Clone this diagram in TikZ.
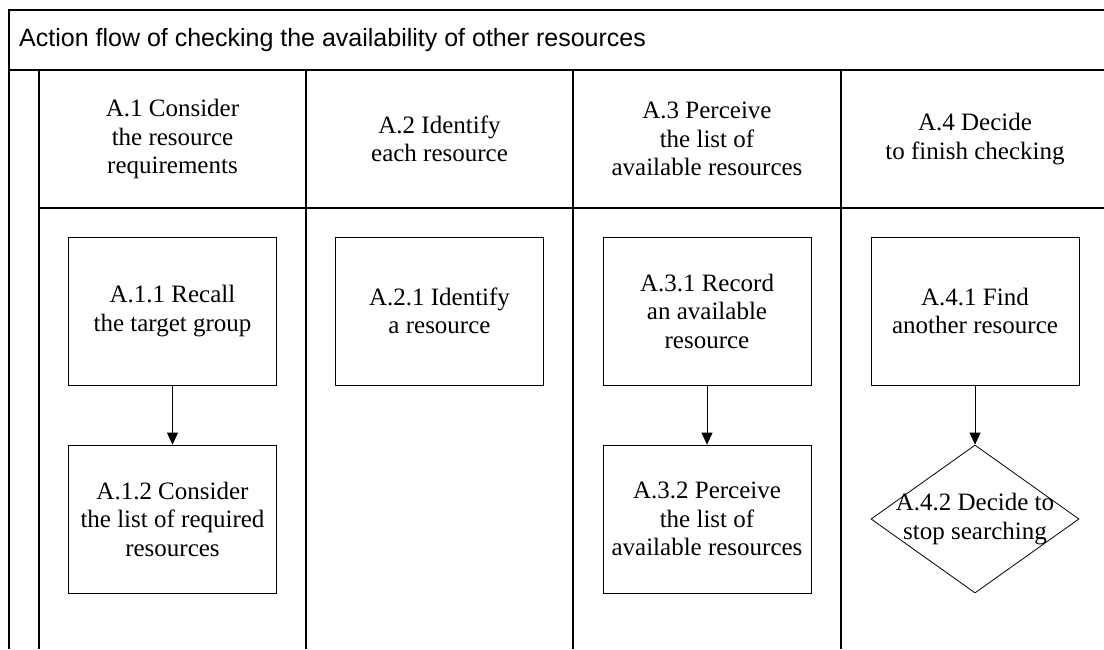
\documentclass[tikz,border=0pt]{standalone}
\usepackage{fontspec}
\setmainfont{Liberation Serif}
\newfontfamily\titlefont{Liberation Sans}
\usetikzlibrary{shapes.geometric,arrows.meta}
\begin{document}
\begin{tikzpicture}[x=1pt,y=-1pt,
  lane/.style={line width=1.4pt, black},
  txt/.style={align=center, inner sep=0pt, font=\fontsize{25}{28.5}\selectfont},
  stepbox/.style={txt, draw, line width=0.8pt, minimum width=208pt, minimum height=148pt},
  decision/.style={diamond, draw, line width=0.8pt, minimum width=208pt, minimum height=148pt, inner sep=0pt},
  flow/.style={line width=0.8pt, -{Triangle[width=11pt,length=12pt]}}]
\useasboundingbox (0,0) rectangle (1104,649);

% pool frame and lanes
\draw[lane] (1104,10) -- (9,10) -- (9,649);
\draw[lane] (9,70) -- (1104,70);
\draw[lane] (39,208) -- (1104,208);
\foreach \x in {39,306,573,841} \draw[lane] (\x,70) -- (\x,649);

% pool title
\node[anchor=base west, inner sep=0pt, font=\titlefont\fontsize{25}{30}\selectfont] (title) at (19,46)
  {Action flow of checking the availability of other resources};

% lane headers
\node[txt] (h1) at (172.5,139) {A.1 Consider\\the resource\\requirements};
\node[txt] (h2) at (439.5,139) {A.2 Identify\\each resource};
\node[txt] (h3) at (707,139) {A.3 Perceive\\the list of\\available resources};
\node[txt] (h4) at (975,139) {A.4 Decide\\to finish checking};

% actions
\node[stepbox] (a11) at (172.5,311) {A.1.1 Recall\\the target group};
\node[stepbox] (a12) at (172.5,519) {A.1.2 Consider\\the list of required\\resources};
\node[stepbox] (a21) at (439.5,311) {A.2.1 Identify\\a resource};
\node[stepbox] (a31) at (707,311) {A.3.1 Record\\an available\\resource};
\node[stepbox] (a32) at (707,519) {A.3.2 Perceive\\the list of\\available resources};
\node[stepbox] (a41) at (975,311) {A.4.1 Find\\another resource};
\node[decision] (a42) at (975,519) {};
\node[txt] (a42t) at (a42.center) {A.4.2 Decide to\\stop searching};

% connectors
\draw[flow] (a11) -- (a12);
\draw[flow] (a31) -- (a32);
\draw[flow] (a41) -- (a42);
\end{tikzpicture}
\end{document}
